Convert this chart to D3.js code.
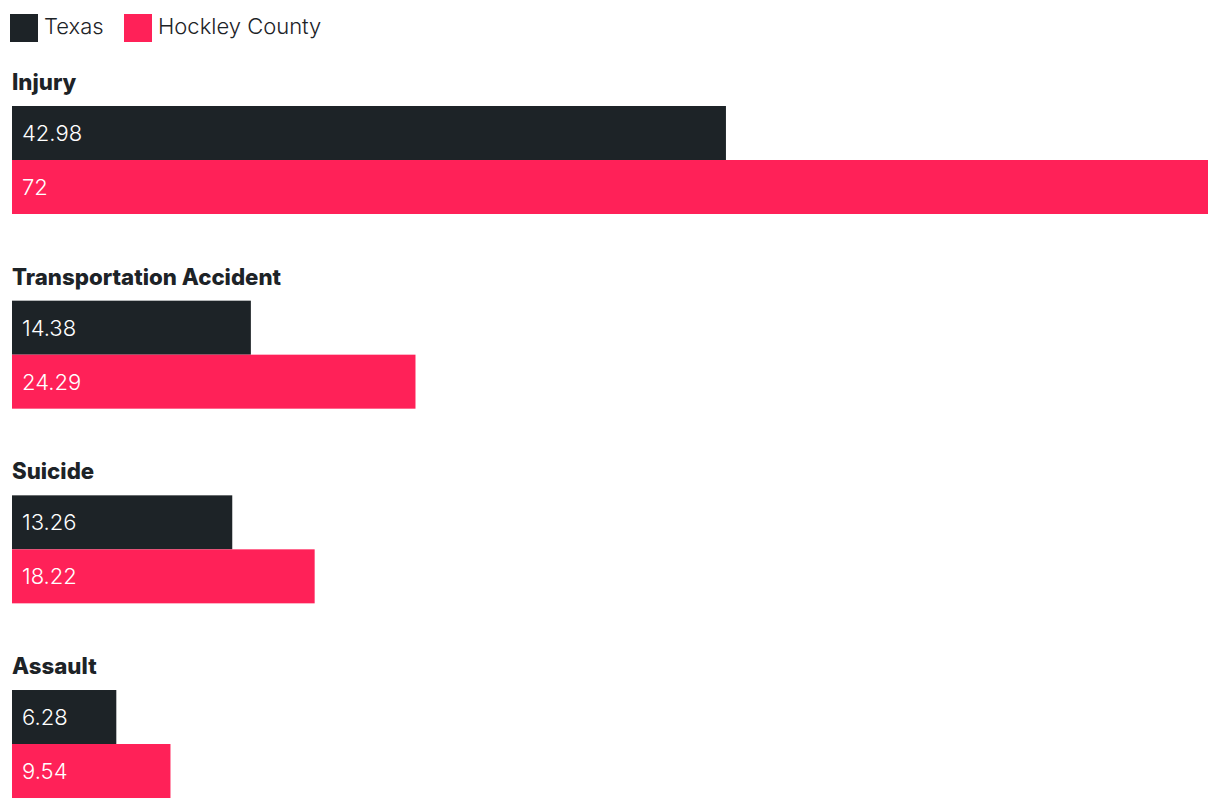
<!DOCTYPE html>
<html><head><meta charset="utf-8">
<script src="https://cdn.jsdelivr.net/npm/d3@7"></script>
<style>html,body{margin:0;padding:0;background:#fff;}svg{display:block;font-family:Inter,"Noto Sans",sans-serif;}</style>
</head><body>
<svg id="c" width="1220" height="808"></svg>
<script>
const categories = ["Injury", "Transportation Accident", "Suicide", "Assault"];
const seriesNames = ["Texas", "Hockley County"];
const texasValues = [42.98, 14.38, 13.26, 6.28];
const hockleyValues = [72, 24.29, 18.22, 9.54];
const colors = ["#1d2327", "#ff2158"];

const svg = d3.select("#c");
const values = [texasValues, hockleyValues];
const x = d3.scaleLinear().domain([0, 72]).range([12, 1208]);
const step = 194.67;
const yGroup = d3.scaleBand().domain(categories).range([106, 106 + step * categories.length]).padding(0);
const barH = 54;
const ySub = d3.scaleBand().domain(seriesNames).range([0, barH * 2]).padding(0);

// legend
const leg = svg.append("g");
const legX = [10, 124];
seriesNames.forEach((s, i) => {
  leg.append("rect").attr("x", legX[i]).attr("y", 14).attr("width", 28).attr("height", 28).attr("fill", colors[i]);
  leg.append("text").attr("x", legX[i] + 34).attr("y", 34).attr("font-size", 22).attr("font-weight", 300)
    .attr("fill", "#1d2327").text(s);
});

const groups = svg.selectAll("g.grp").data(categories).enter().append("g")
  .attr("class", "grp").attr("transform", d => `translate(0,${yGroup(d)})`);

groups.append("text").attr("x", 12).attr("y", -16).attr("font-size", 22.25).attr("font-weight", 800)
  .attr("fill", "#1d2327").text(d => d);

groups.each(function(c, ci) {
  const g = d3.select(this);
  seriesNames.forEach((s, si) => {
    const v = values[si][ci];
    g.append("rect").attr("x", x(0)).attr("y", ySub(s)).attr("width", x(v) - x(0))
      .attr("height", ySub.bandwidth()).attr("fill", colors[si]);
    g.append("text").attr("x", x(0) + 10).attr("y", ySub(s) + ySub.bandwidth() / 2).attr("dy", "0.36em")
      .attr("font-size", 22).attr("font-weight", 300).attr("fill", "#fff").text(v);
  });
});
</script>
</body></html>
